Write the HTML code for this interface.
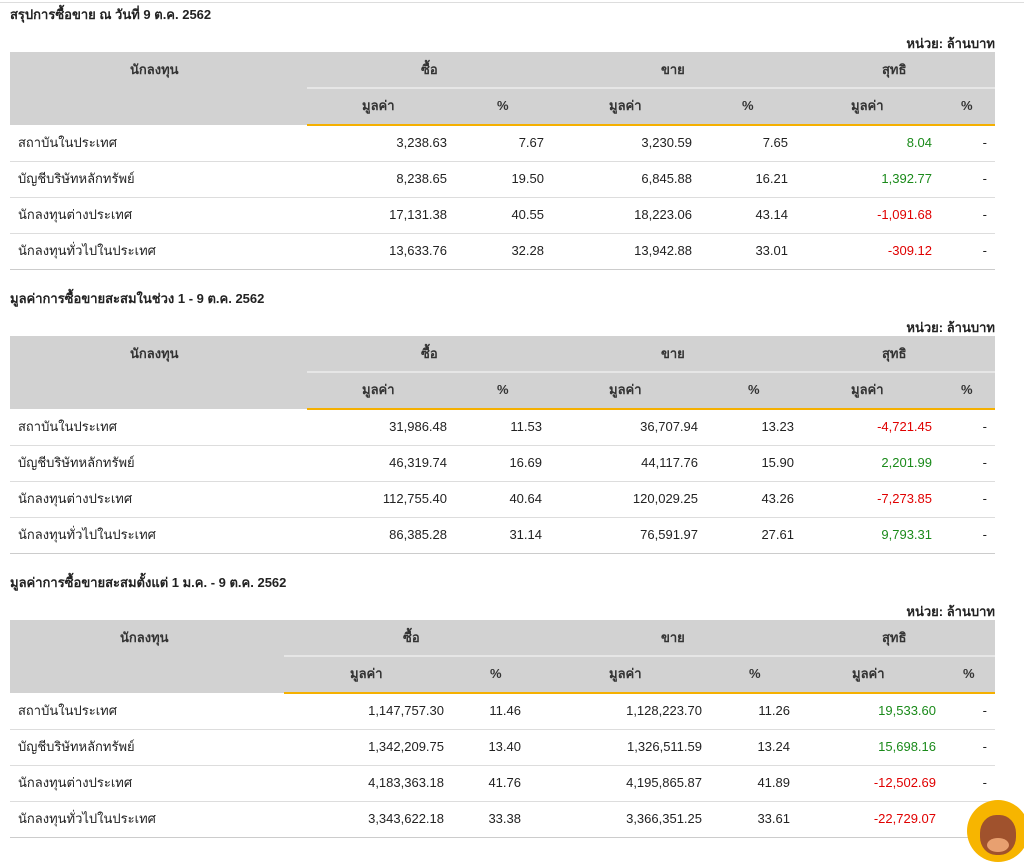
<!DOCTYPE html>
<html><head><meta charset="utf-8"><style>
body{margin:0;width:1024px;height:859px;background:#fff;position:relative;overflow:hidden;font-family:"Liberation Sans","Noto Sans CJK SC",sans-serif;color:#222;font-size:13px}
div{position:absolute;white-space:nowrap}
.t{font-weight:bold;font-size:13px;line-height:16px}
.h{font-weight:bold;line-height:16px;color:#333}
.v{line-height:16px}
.g{color:#1a8a1a}.r{color:#e00000}
.bg{background:#d2d2d2}
.ln{height:1px;background:#ddd;left:10px;width:985px}
</style></head><body>
<div style="left:0;top:2px;width:1024px;height:1px;background:#ddd"></div>

<!-- Section 1 -->
<div class="t" style="left:10px;top:7px">สรุปการซื้อขาย ณ วันที่ 9 ต.ค. 2562</div>
<div class="t" style="right:29px;top:36px">หน่วย: ล้านบาท</div>
<div class="bg" style="left:10px;top:52px;width:985px;height:73px"></div>
<div style="left:307px;top:87px;width:688px;height:2px;background:#e6e6e6"></div>
<div style="left:307px;top:124px;width:688px;height:2px;background:#f5b000"></div>
<div class="h" style="left:130px;top:62px">นักลงทุน</div>
<div class="h" style="left:421px;top:62px">ซื้อ</div>
<div class="h" style="left:661px;top:62px">ขาย</div>
<div class="h" style="left:882px;top:62px">สุทธิ</div>
<div class="h" style="left:362px;top:98px">มูลค่า</div>
<div class="h" style="left:497px;top:98px">%</div>
<div class="h" style="left:609px;top:98px">มูลค่า</div>
<div class="h" style="left:742px;top:98px">%</div>
<div class="h" style="left:851px;top:98px">มูลค่า</div>
<div class="h" style="left:961px;top:98px">%</div>
<div class="ln" style="top:161px"></div><div class="ln" style="top:197px"></div><div class="ln" style="top:233px"></div><div class="ln" style="top:269px;background:#ccc"></div>

<div class="v" style="left:18px;top:135px">สถาบันในประเทศ</div>
<div class="v" style="right:577px;top:135px">3,238.63</div><div class="v" style="right:480px;top:135px">7.67</div>
<div class="v" style="right:332px;top:135px">3,230.59</div><div class="v" style="right:236px;top:135px">7.65</div>
<div class="v g" style="right:92px;top:135px">8.04</div><div class="v" style="right:37px;top:135px">-</div>

<div class="v" style="left:18px;top:171px">บัญชีบริษัทหลักทรัพย์</div>
<div class="v" style="right:577px;top:171px">8,238.65</div><div class="v" style="right:480px;top:171px">19.50</div>
<div class="v" style="right:332px;top:171px">6,845.88</div><div class="v" style="right:236px;top:171px">16.21</div>
<div class="v g" style="right:92px;top:171px">1,392.77</div><div class="v" style="right:37px;top:171px">-</div>

<div class="v" style="left:18px;top:207px">นักลงทุนต่างประเทศ</div>
<div class="v" style="right:577px;top:207px">17,131.38</div><div class="v" style="right:480px;top:207px">40.55</div>
<div class="v" style="right:332px;top:207px">18,223.06</div><div class="v" style="right:236px;top:207px">43.14</div>
<div class="v r" style="right:92px;top:207px">-1,091.68</div><div class="v" style="right:37px;top:207px">-</div>

<div class="v" style="left:18px;top:243px">นักลงทุนทั่วไปในประเทศ</div>
<div class="v" style="right:577px;top:243px">13,633.76</div><div class="v" style="right:480px;top:243px">32.28</div>
<div class="v" style="right:332px;top:243px">13,942.88</div><div class="v" style="right:236px;top:243px">33.01</div>
<div class="v r" style="right:92px;top:243px">-309.12</div><div class="v" style="right:37px;top:243px">-</div>

<!-- Section 2 -->
<div class="t" style="left:10px;top:291px">มูลค่าการซื้อขายสะสมในช่วง 1 - 9 ต.ค. 2562</div>
<div class="t" style="right:29px;top:320px">หน่วย: ล้านบาท</div>
<div class="bg" style="left:10px;top:336px;width:985px;height:73px"></div>
<div style="left:307px;top:371px;width:688px;height:2px;background:#e6e6e6"></div>
<div style="left:307px;top:408px;width:688px;height:2px;background:#f5b000"></div>
<div class="h" style="left:130px;top:346px">นักลงทุน</div>
<div class="h" style="left:421px;top:346px">ซื้อ</div>
<div class="h" style="left:661px;top:346px">ขาย</div>
<div class="h" style="left:882px;top:346px">สุทธิ</div>
<div class="h" style="left:362px;top:382px">มูลค่า</div>
<div class="h" style="left:497px;top:382px">%</div>
<div class="h" style="left:609px;top:382px">มูลค่า</div>
<div class="h" style="left:748px;top:382px">%</div>
<div class="h" style="left:851px;top:382px">มูลค่า</div>
<div class="h" style="left:961px;top:382px">%</div>
<div class="ln" style="top:445px"></div><div class="ln" style="top:481px"></div><div class="ln" style="top:517px"></div><div class="ln" style="top:553px;background:#ccc"></div>

<div class="v" style="left:18px;top:419px">สถาบันในประเทศ</div>
<div class="v" style="right:577px;top:419px">31,986.48</div><div class="v" style="right:482px;top:419px">11.53</div>
<div class="v" style="right:326px;top:419px">36,707.94</div><div class="v" style="right:230px;top:419px">13.23</div>
<div class="v r" style="right:92px;top:419px">-4,721.45</div><div class="v" style="right:37px;top:419px">-</div>

<div class="v" style="left:18px;top:455px">บัญชีบริษัทหลักทรัพย์</div>
<div class="v" style="right:577px;top:455px">46,319.74</div><div class="v" style="right:482px;top:455px">16.69</div>
<div class="v" style="right:326px;top:455px">44,117.76</div><div class="v" style="right:230px;top:455px">15.90</div>
<div class="v g" style="right:92px;top:455px">2,201.99</div><div class="v" style="right:37px;top:455px">-</div>

<div class="v" style="left:18px;top:491px">นักลงทุนต่างประเทศ</div>
<div class="v" style="right:577px;top:491px">112,755.40</div><div class="v" style="right:482px;top:491px">40.64</div>
<div class="v" style="right:326px;top:491px">120,029.25</div><div class="v" style="right:230px;top:491px">43.26</div>
<div class="v r" style="right:92px;top:491px">-7,273.85</div><div class="v" style="right:37px;top:491px">-</div>

<div class="v" style="left:18px;top:527px">นักลงทุนทั่วไปในประเทศ</div>
<div class="v" style="right:577px;top:527px">86,385.28</div><div class="v" style="right:482px;top:527px">31.14</div>
<div class="v" style="right:326px;top:527px">76,591.97</div><div class="v" style="right:230px;top:527px">27.61</div>
<div class="v g" style="right:92px;top:527px">9,793.31</div><div class="v" style="right:37px;top:527px">-</div>

<!-- Section 3 -->
<div class="t" style="left:10px;top:575px">มูลค่าการซื้อขายสะสมตั้งแต่ 1 ม.ค. - 9 ต.ค. 2562</div>
<div class="t" style="right:29px;top:604px">หน่วย: ล้านบาท</div>
<div class="bg" style="left:10px;top:620px;width:985px;height:73px"></div>
<div style="left:284px;top:655px;width:711px;height:2px;background:#e6e6e6"></div>
<div style="left:284px;top:692px;width:711px;height:2px;background:#f5b000"></div>
<div class="h" style="left:120px;top:630px">นักลงทุน</div>
<div class="h" style="left:403px;top:630px">ซื้อ</div>
<div class="h" style="left:661px;top:630px">ขาย</div>
<div class="h" style="left:882px;top:630px">สุทธิ</div>
<div class="h" style="left:350px;top:666px">มูลค่า</div>
<div class="h" style="left:490px;top:666px">%</div>
<div class="h" style="left:609px;top:666px">มูลค่า</div>
<div class="h" style="left:749px;top:666px">%</div>
<div class="h" style="left:852px;top:666px">มูลค่า</div>
<div class="h" style="left:963px;top:666px">%</div>
<div class="ln" style="top:729px"></div><div class="ln" style="top:765px"></div><div class="ln" style="top:801px"></div><div class="ln" style="top:837px;background:#ccc"></div>

<div class="v" style="left:18px;top:703px">สถาบันในประเทศ</div>
<div class="v" style="right:580px;top:703px">1,147,757.30</div><div class="v" style="right:503px;top:703px">11.46</div>
<div class="v" style="right:322px;top:703px">1,128,223.70</div><div class="v" style="right:234px;top:703px">11.26</div>
<div class="v g" style="right:88px;top:703px">19,533.60</div><div class="v" style="right:37px;top:703px">-</div>

<div class="v" style="left:18px;top:739px">บัญชีบริษัทหลักทรัพย์</div>
<div class="v" style="right:580px;top:739px">1,342,209.75</div><div class="v" style="right:503px;top:739px">13.40</div>
<div class="v" style="right:322px;top:739px">1,326,511.59</div><div class="v" style="right:234px;top:739px">13.24</div>
<div class="v g" style="right:88px;top:739px">15,698.16</div><div class="v" style="right:37px;top:739px">-</div>

<div class="v" style="left:18px;top:775px">นักลงทุนต่างประเทศ</div>
<div class="v" style="right:580px;top:775px">4,183,363.18</div><div class="v" style="right:503px;top:775px">41.76</div>
<div class="v" style="right:322px;top:775px">4,195,865.87</div><div class="v" style="right:234px;top:775px">41.89</div>
<div class="v r" style="right:88px;top:775px">-12,502.69</div><div class="v" style="right:37px;top:775px">-</div>

<div class="v" style="left:18px;top:811px">นักลงทุนทั่วไปในประเทศ</div>
<div class="v" style="right:580px;top:811px">3,343,622.18</div><div class="v" style="right:503px;top:811px">33.38</div>
<div class="v" style="right:322px;top:811px">3,366,351.25</div><div class="v" style="right:234px;top:811px">33.61</div>
<div class="v r" style="right:88px;top:811px">-22,729.07</div>

<!-- mascot -->
<div style="left:967px;top:800px;width:62px;height:62px;border-radius:50%;background:#f7b500"></div>
<div style="left:980px;top:815px;width:36px;height:40px;border-radius:45%;background:#a0522d"></div>
<div style="left:987px;top:838px;width:22px;height:14px;border-radius:50%;background:#e8a070"></div>
</body></html>
